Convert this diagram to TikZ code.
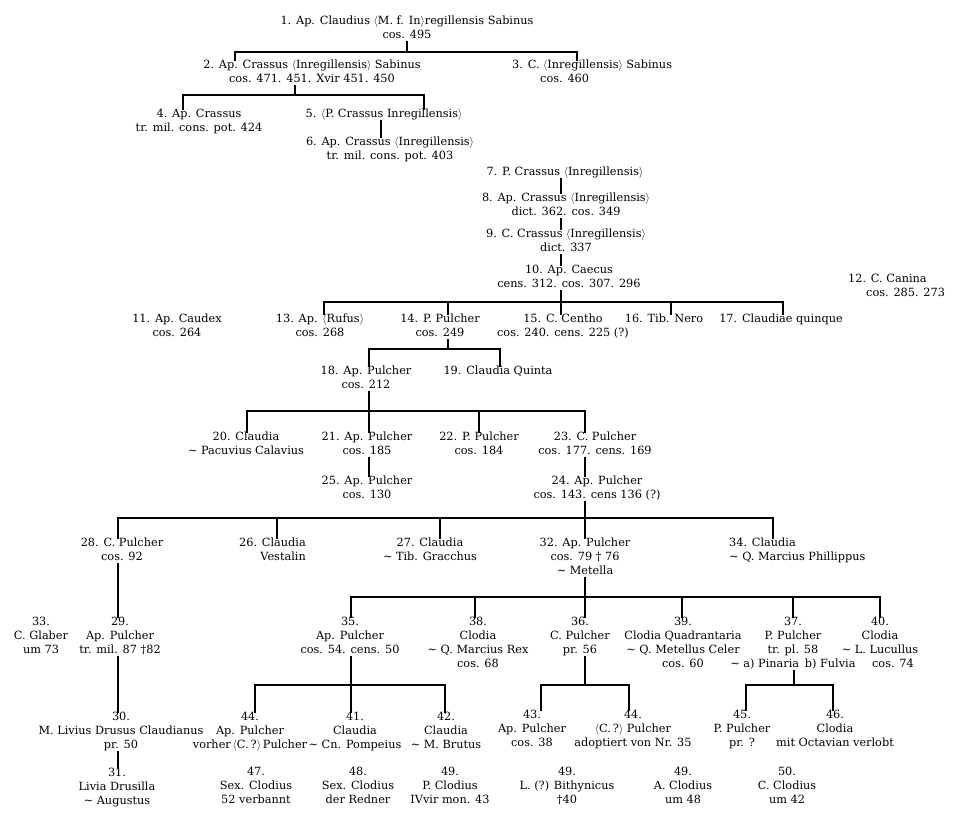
\documentclass[tikz,border=0pt]{standalone}
\usepackage{fontspec}
\setmainfont{DejaVu Serif}

\begin{document}
\begin{tikzpicture}[x=1pt,y=-1pt,
    every node/.style={font=\fontsize{11.3}{14}\selectfont},
    tree/.style={line width=1.8pt, line cap=rect},
    person/.style={align=center, inner sep=0pt, anchor=north, text depth=3pt}]
    \useasboundingbox (0,0) rectangle (956,821);

    \node[person] (n1) at (407,16) {1. Ap. Claudius $\langle$M. f. In$\rangle$regillensis Sabinus\\cos. 495};
    \node[person] (n2) at (312,60) {2. Ap. Crassus $\langle$Inregillensis$\rangle$ Sabinus\\cos. 471. 451. Xvir 451. 450};
    \node[person, align=left, anchor=north west] (n3) at (512,60) {3. C. $\langle$Inregillensis$\rangle$ Sabinus\\\hspace*{28pt}cos. 460};
    \node[person] (n4) at (199,109) {4. Ap. Crassus\\tr. mil. cons. pot. 424};
    \node[person] (n5) at (384,109) {5. $\langle$P. Crassus Inregillensis$\rangle$};
    \node[person] (n6) at (390,137) {6. Ap. Crassus $\langle$Inregillensis$\rangle$\\tr. mil. cons. pot. 403};
    \node[person] (n7) at (565,167) {7. P. Crassus $\langle$Inregillensis$\rangle$};
    \node[person] (n8) at (566,193) {8. Ap. Crassus $\langle$Inregillensis$\rangle$\\dict. 362. cos. 349};
    \node[person] (n9) at (566,229) {9. C. Crassus $\langle$Inregillensis$\rangle$\\dict. 337};
    \node[person] (n10) at (569,265) {10. Ap. Caecus\\cens. 312. cos. 307. 296};
    \node[person, align=left, anchor=north west] (n12) at (848,274) {12. C. Canina\\\hspace*{18pt}cos. 285. 273};
    \node[person] (n11) at (177,314) {11. Ap. Caudex\\cos. 264};
    \node[person] (n13) at (320,314) {13. Ap. $\langle$Rufus$\rangle$\\cos. 268};
    \node[person] (n14) at (440,314) {14. P. Pulcher\\cos. 249};
    \node[person] (n15) at (563,314) {15. C. Centho\\cos. 240. cens. 225 (?)};
    \node[person] (n16) at (664,314) {16. Tib. Nero};
    \node[person] (n17) at (781,314) {17. Claudiae quinque};
    \node[person] (n18) at (366,366) {18. Ap. Pulcher\\cos. 212};
    \node[person] (n19) at (498,366) {19. Claudia Quinta};
    \node[person] (n20) at (246,432) {20. Claudia\\\textasciitilde{} Pacuvius Calavius};
    \node[person] (n21) at (367,432) {21. Ap. Pulcher\\cos. 185};
    \node[person] (n22) at (479,432) {22. P. Pulcher\\cos. 184};
    \node[person] (n23) at (595,432) {23. C. Pulcher\\cos. 177. cens. 169};
    \node[person] (n25) at (367,476) {25. Ap. Pulcher\\cos. 130};
    \node[person] (n24) at (597,476) {24. Ap. Pulcher\\cos. 143. cens 136 (?)};
    \node[person] (n28) at (122,538) {28. C. Pulcher\\cos. 92};
    \node[person, align=right, anchor=north east] (n26) at (306,538) {26. Claudia\\Vestalin};
    \node[person] (n27) at (430,538) {27. Claudia\\\textasciitilde{} Tib. Gracchus};
    \node[person] (n32) at (585,538) {32. Ap. Pulcher\\cos. 79 † 76\\\textasciitilde{} Metella};
    \node[person, align=left, anchor=north west] (n34) at (729,538) {34. Claudia\\\textasciitilde{} Q. Marcius Phillippus};
    \node[person] (n33) at (41,617) {33.\\C. Glaber\\um 73};
    \node[person] (n29) at (120,617) {29.\\Ap. Pulcher\\tr. mil. 87 †82};
    \node[person] (n35) at (350,617) {35.\\Ap. Pulcher\\cos. 54. cens. 50};
    \node[person] (n38) at (478,617) {38.\\Clodia\\\textasciitilde{} Q. Marcius Rex\\cos. 68};
    \node[person] (n36) at (580,617) {36.\\C. Pulcher\\pr. 56};
    \node[person] (n39) at (683,617) {39.\\Clodia Quadrantaria\\\textasciitilde{} Q. Metellus Celer\\cos. 60};
    \node[person] (n37) at (793,617) {37.\\P. Pulcher\\tr. pl. 58\\\textasciitilde{} a) Pinaria\enspace b) Fulvia};
    \node[person] (n40) at (880,617) {40.\\Clodia\\\textasciitilde{} L. Lucullus\\\hspace*{26pt}cos. 74};
    \node[person] (n30) at (121,712) {30.\\M. Livius Drusus Claudianus\\pr. 50};
    \node[person] (n44a) at (250,712) {44.\\Ap. Pulcher\\vorher\,$\langle$C.\,?$\rangle$\,Pulcher};
    \node[person] (n41) at (355,712) {41.\\Claudia\\\textasciitilde{} Cn. Pompeius};
    \node[person] (n42) at (446,712) {42.\\Claudia\\\textasciitilde{} M. Brutus};
    \node[person] (n43) at (532,710) {43.\\Ap. Pulcher\\cos. 38};
    \node[person] (n44b) at (633,710) {44.\\$\langle$C.\,?$\rangle$ Pulcher\\adoptiert von Nr. 35};
    \node[person] (n45) at (742,710) {45.\\P. Pulcher\\pr. ?};
    \node[person] (n46) at (835,710) {46.\\Clodia\\mit Octavian verlobt};
    \node[person] (n31) at (117,768) {31.\\Livia Drusilla\\\textasciitilde{} Augustus};
    \node[person] (n47) at (256,767) {47.\\Sex. Clodius\\52 verbannt};
    \node[person] (n48) at (358,767) {48.\\Sex. Clodius\\der Redner};
    \node[person] (n49a) at (450,767) {49.\\P. Clodius\\IVvir mon. 43};
    \node[person] (n49b) at (567,767) {49.\\L. (?) Bithynicus\\†40};
    \node[person] (n49c) at (683,767) {49.\\A. Clodius\\um 48};
    \node[person] (n50) at (787,767) {50.\\C. Clodius\\um 42};

    \draw[tree] (407,0 |- n1.south) -- (407,52);
    \draw[tree] (235,52) -- (577,52);
    \foreach \x/\n in {235/n2,577/n3}
        \draw[tree] (\x,52) -- (\x,0 |- \n.north);
    \draw[tree] (295,0 |- n2.south) -- (295,95);
    \draw[tree] (183,95) -- (424,95);
    \foreach \x/\n in {183/n4,424/n5}
        \draw[tree] (\x,95) -- (\x,0 |- \n.north);
    \draw[tree] (381,0 |- n5.south) -- (381,0 |- n6.north);
    \draw[tree] (561,0 |- n7.south) -- (561,0 |- n8.north);
    \draw[tree] (561,0 |- n8.south) -- (561,0 |- n9.north);
    \draw[tree] (561,0 |- n9.south) -- (561,0 |- n10.north);
    \draw[tree] (561,0 |- n10.south) -- (561,302);
    \draw[tree] (324,302) -- (783,302);
    \foreach \x/\n in {324/n13,448/n14,561/n15,671/n16,783/n17}
        \draw[tree] (\x,302) -- (\x,0 |- \n.north);
    \draw[tree] (448,0 |- n14.south) -- (448,349);
    \draw[tree] (369,349) -- (500,349);
    \foreach \x/\n in {369/n18,500/n19}
        \draw[tree] (\x,349) -- (\x,0 |- \n.north);
    \draw[tree] (369,0 |- n18.south) -- (369,411);
    \draw[tree] (247,411) -- (585,411);
    \foreach \x/\n in {247/n20,369/n21,479/n22,585/n23}
        \draw[tree] (\x,411) -- (\x,0 |- \n.north);
    \draw[tree] (369,0 |- n21.south) -- (369,0 |- n25.north);
    \draw[tree] (585,0 |- n23.south) -- (585,0 |- n24.north);
    \draw[tree] (585,0 |- n24.south) -- (585,518);
    \draw[tree] (118,518) -- (773,518);
    \foreach \x/\n in {118/n28,277/n26,440/n27,585/n32,773/n34}
        \draw[tree] (\x,518) -- (\x,0 |- \n.north);
    \draw[tree] (118,0 |- n28.south) -- (118,0 |- n29.north);
    \draw[tree] (118,0 |- n29.south) -- (118,0 |- n30.north);
    \draw[tree] (118,0 |- n30.south) -- (118,0 |- n31.north);
    \draw[tree] (585,0 |- n32.south) -- (585,597);
    \draw[tree] (351,597) -- (880,597);
    \foreach \x/\n in {351/n35,475/n38,585/n36,682/n39,793/n37,880/n40}
        \draw[tree] (\x,597) -- (\x,0 |- \n.north);
    \draw[tree] (351,0 |- n35.south) -- (351,685);
    \draw[tree] (255,685) -- (445,685);
    \foreach \x/\n in {255/n44a,351/n41,445/n42}
        \draw[tree] (\x,685) -- (\x,0 |- \n.north);
    \draw[tree] (585,0 |- n36.south) -- (585,685);
    \draw[tree] (541,685) -- (629,685);
    \foreach \x/\n in {541/n43,629/n44b}
        \draw[tree] (\x,685) -- (\x,0 |- \n.north);
    \draw[tree] (794,0 |- n37.south) -- (794,685);
    \draw[tree] (746,685) -- (833,685);
    \foreach \x/\n in {746/n45,833/n46}
        \draw[tree] (\x,685) -- (\x,0 |- \n.north);
\end{tikzpicture}
\end{document}
